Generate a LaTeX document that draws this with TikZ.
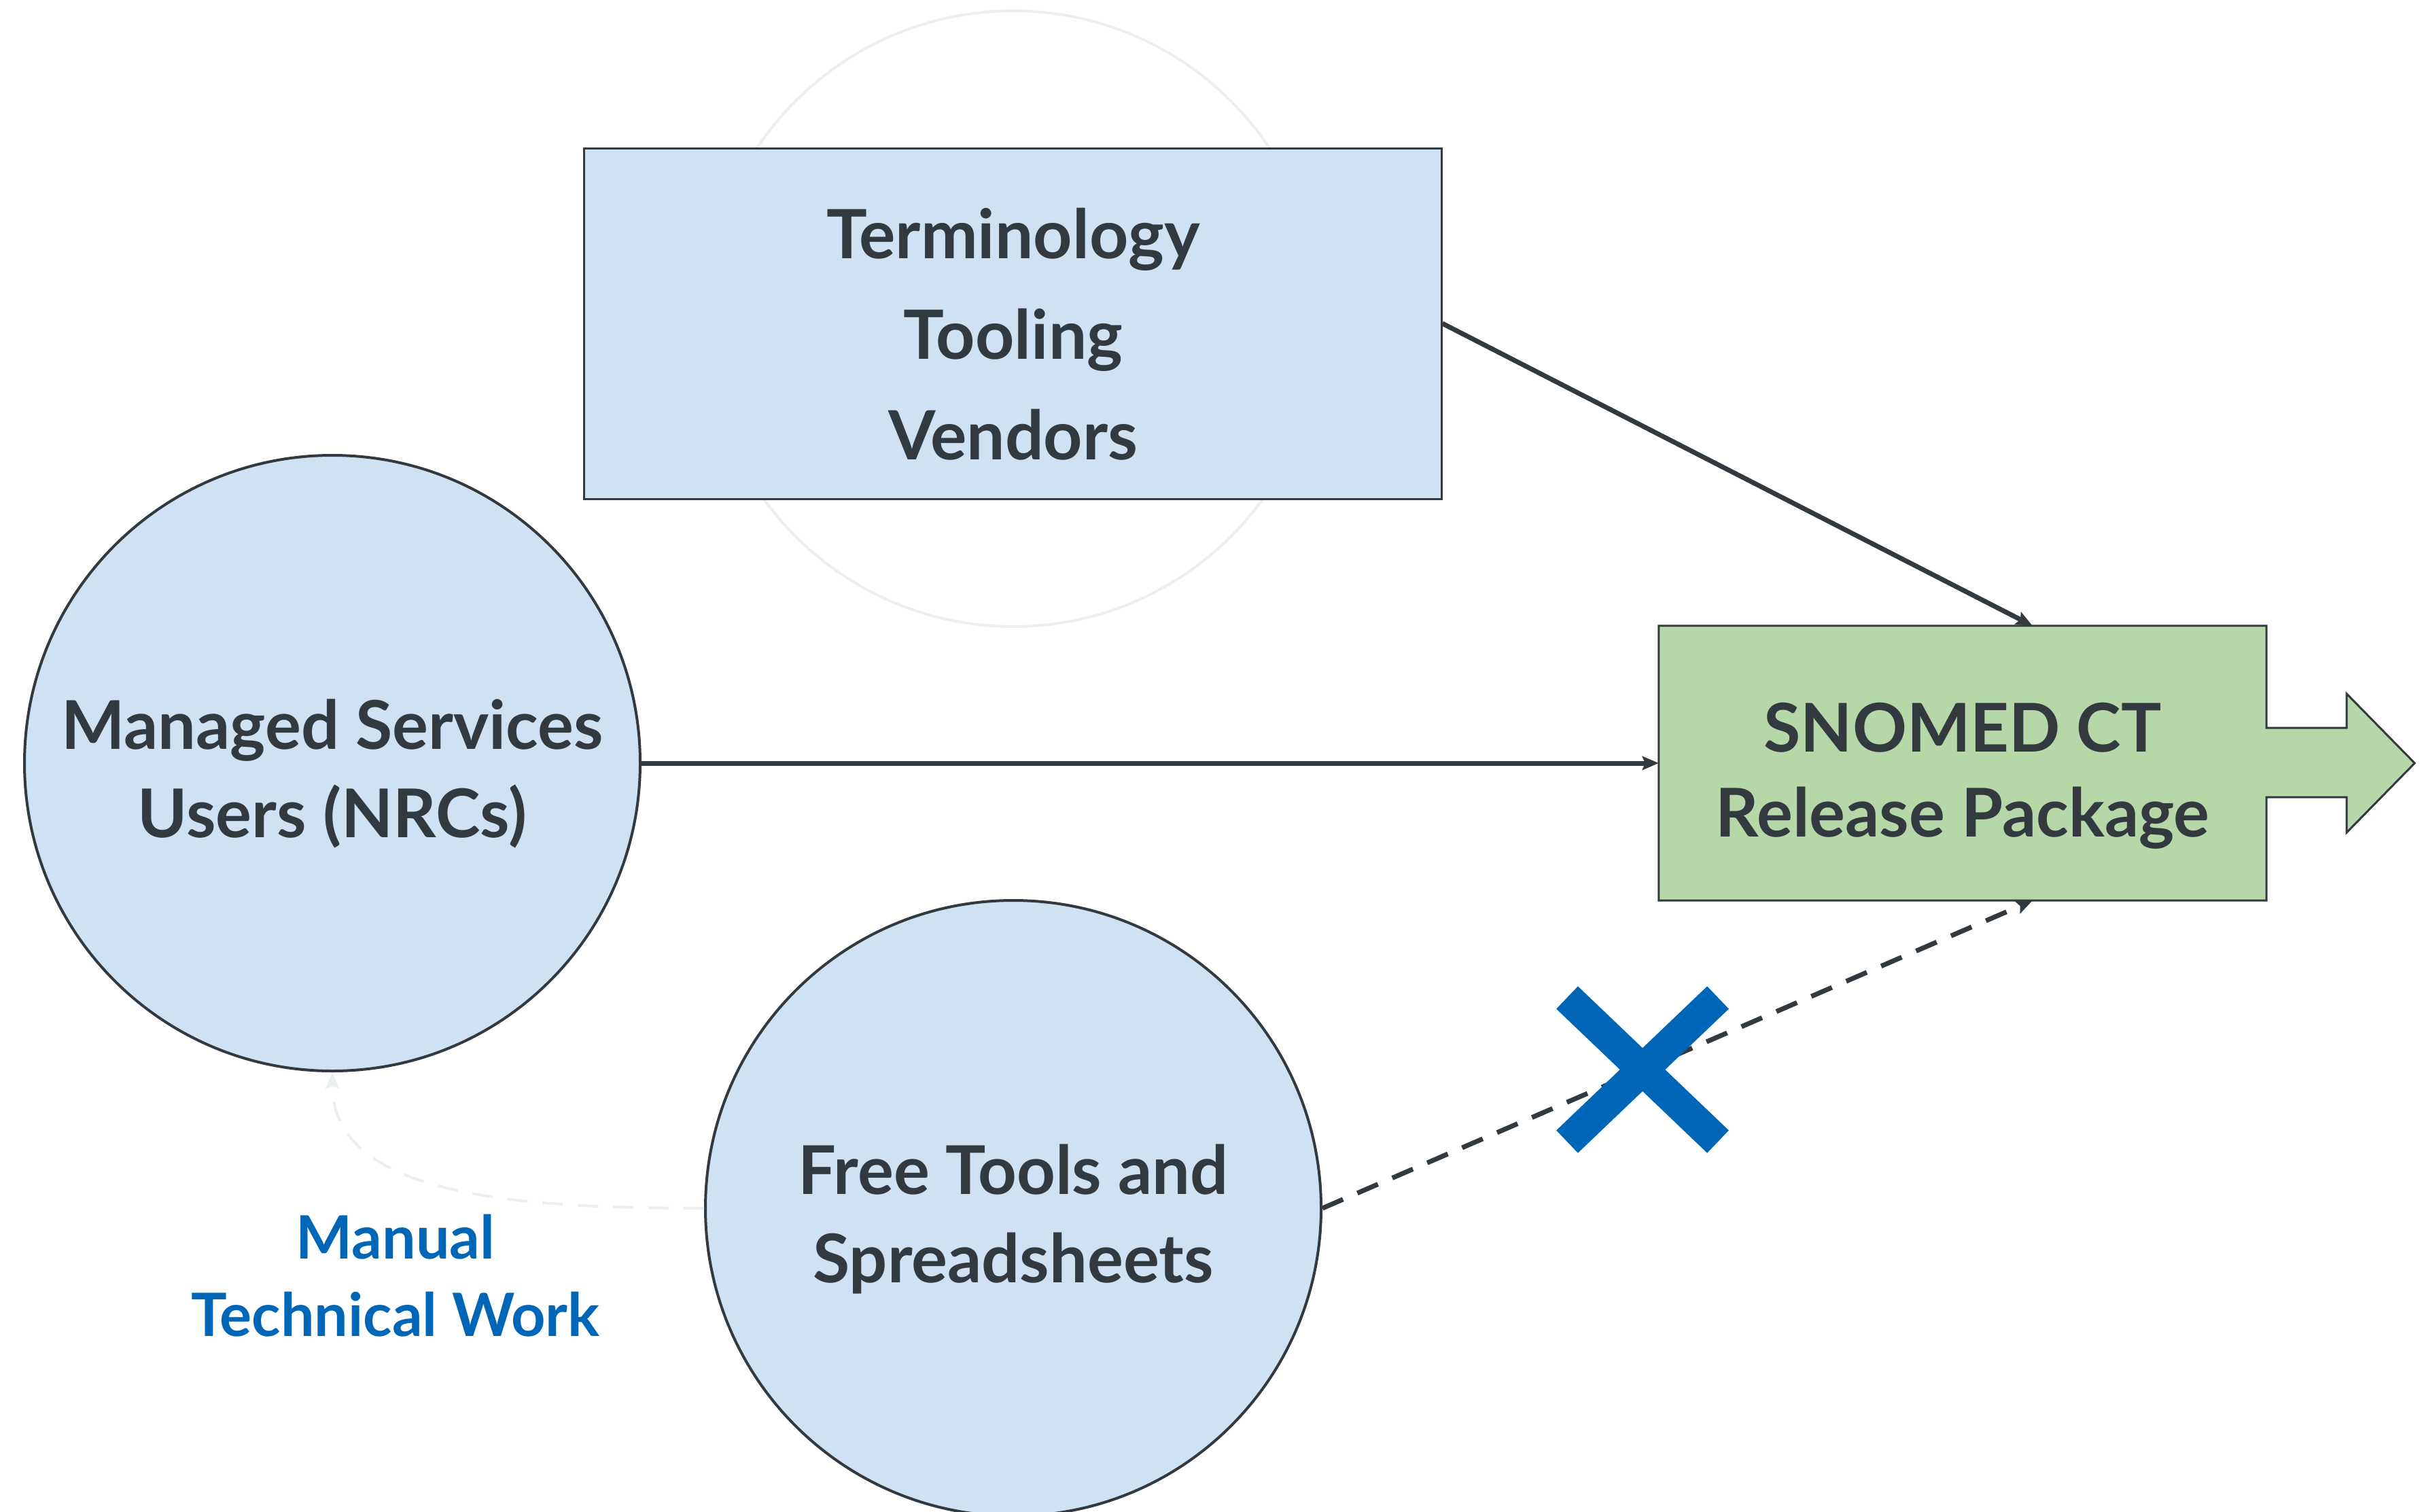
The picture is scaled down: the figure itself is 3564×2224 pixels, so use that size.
\documentclass[tikz,border=0pt]{standalone}
\usepackage{fontspec}
\setmainfont{Lato}
\usetikzlibrary{arrows.meta,calc}
\definecolor{ink}{HTML}{323A40}
\definecolor{boxblue}{HTML}{CFE2F3}
\definecolor{boxgreen}{HTML}{B6D7A8}
\definecolor{crossblue}{HTML}{0066B8}
\definecolor{faint}{HTML}{ECEFF0}
\begin{document}
\begin{tikzpicture}[x=1pt,y=-1pt,
  bigtext/.style={font=\fontsize{99}{130}\selectfont\bfseries, text=ink, align=center},
  bluecircle/.style={circle, minimum size=906pt, inner sep=0pt, fill=boxblue, draw=ink, line width=4pt},
  conn/.style={draw=ink, line width=7pt, -{Stealth[length=24pt,width=20pt,inset=4pt]}},
  dashconn/.style={conn, dash pattern=on 33pt off 23pt},
  faintline/.style={draw=faint, line width=4pt},
  crossstroke/.style={draw=crossblue, line width=46pt}
]
\clip (0,0) rectangle (3564,2224);
\fill[white] (0,0) rectangle (3564,2224);

% faint background circle
\node[circle, minimum size=906pt, inner sep=0pt, faintline] (bgc) at (1491,469) {};

% Terminology Tooling Vendors box
\node[rectangle, minimum width=1262pt, minimum height=516pt, inner sep=0pt,
      fill=boxblue, draw=ink, line width=3pt] (ttv) at (1490,476) {};
\node[bigtext, font=\fontsize{100}{148}\selectfont\bfseries] (ttvt) at (1491,492)
      {Terminology\\Tooling\\Vendors};

% Managed services circle
\node[bluecircle] (msu) at (489,1123) {};
\node[bigtext] (msut) at (489,1139) {Managed Services\\Users (NRCs)};

% Free tools circle
\node[bluecircle] (ftc) at (1491,1778) {};
\node[bigtext] (ftt) at (1491,1794) {Free Tools and\\Spreadsheets};

% SNOMED release package with block arrow
\node[rectangle, minimum width=894pt, minimum height=404pt, inner sep=0pt] (snomed) at (2888,1123) {};
\filldraw[fill=boxgreen, draw=ink, line width=3pt, line join=miter]
  (snomed.north west) -- (snomed.north east) -- ($(snomed.east)+(0,-52)$) -- ($(snomed.east)+(118,-52)$)
  -- ($(snomed.east)+(118,-102)$) -- ($(snomed.east)+(218,0)$) -- ($(snomed.east)+(118,102)$)
  -- ($(snomed.east)+(118,50)$) -- ($(snomed.east)+(0,50)$) -- (snomed.south east) -- (snomed.south west) -- cycle;
\node[bigtext, font=\fontsize{99}{125}\selectfont\bfseries] (snt) at (2888,1142) {SNOMED CT\\Release Package};

\coordinate (sntop) at ($(snomed.north west)!0.615!(snomed.north east)$);
\coordinate (snbot) at ($(snomed.south west)!0.615!(snomed.south east)$);

% connectors
\draw[conn] (ttv.east) -- (sntop);
\draw[conn] (msu.east) -- (snomed.west);
\draw[dashconn] (ftc.east) -- (snbot);

% faint dashed curve
\draw[faintline, dash pattern=on 30pt off 22pt, -{Stealth[length=24pt,width=20pt,inset=4pt]}]
  (ftc.west) .. controls (760,1778) and (489,1760) .. (msu.south);

% Manual technical work label
\node[font=\fontsize{88}{114}\selectfont\bfseries, text=crossblue, align=center] (mtw) at (582,1877) {Manual\\Technical Work};

% blue cross
\coordinate (cross) at (2417,1574);
\draw[crossstroke] ($(cross)+(-111,-106)$) -- ($(cross)+(111,106)$);
\draw[crossstroke] ($(cross)+(111,-106)$) -- ($(cross)+(-111,106)$);
\end{tikzpicture}
\end{document}
